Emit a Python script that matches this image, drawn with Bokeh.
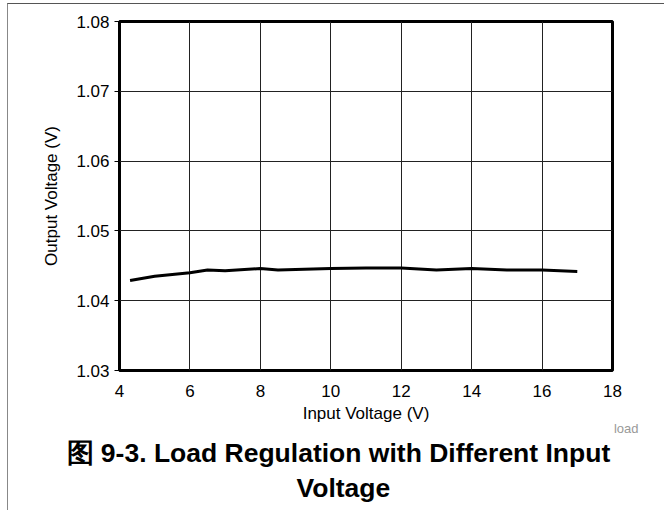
from bokeh.plotting import figure
from bokeh.models import Range1d, FixedTicker, Title
from bokeh.embed import file_html
from bokeh.resources import INLINE

# data
input_v = [4.3, 5.0, 6.0, 6.5, 7.0, 8.0, 8.5, 10.0, 11.0, 12.0, 13.0, 14.0, 15.0, 16.0, 17.0]
output_v = [1.0429, 1.0435, 1.0440, 1.0444, 1.0443, 1.0446, 1.0444, 1.0446, 1.0447, 1.0447,
            1.0444, 1.0446, 1.0444, 1.0444, 1.0442]
x_ticks = [4, 6, 8, 10, 12, 14, 16, 18]
y_ticks = [1.03, 1.04, 1.05, 1.06, 1.07, 1.08]
x_title = "Input Voltage (V)"
y_title = "Output Voltage (V)"
caption1 = "图 9-3. Load Regulation with Different Input"
caption2 = "Voltage"
note = "load"

FONT = "Liberation Sans"

p = figure(frame_width=493, frame_height=349, output_backend="svg", toolbar_location=None,
           x_range=Range1d(4, 18), y_range=Range1d(1.03, 1.08),
           min_border_left=111, min_border_right=52, min_border_top=17, min_border_bottom=140,
           margin=(3, 0, 0, 7))
p.styles = {"border-top": "1px solid #555555", "border-left": "1px solid #888888"}

p.outline_line_color = "black"
p.outline_line_width = 3
p.background_fill_color = "white"
p.border_fill_color = "white"

p.xaxis.ticker = FixedTicker(ticks=x_ticks)
p.yaxis.ticker = FixedTicker(ticks=y_ticks)
p.xaxis.formatter.use_scientific = False
for ax in (p.xaxis[0], p.yaxis[0]):
    ax.axis_line_color = None
    ax.minor_tick_line_color = None
    ax.major_tick_in = 0
    ax.major_tick_line_color = "black"
    ax.major_label_text_font = FONT
    ax.major_label_text_font_size = "17px"
    ax.major_label_text_color = "black"
    ax.axis_label_text_font = FONT
    ax.axis_label_text_font_size = "17px"
    ax.axis_label_text_font_style = "normal"
    ax.axis_label_text_color = "black"
p.yaxis.major_tick_out = 5
p.yaxis.major_label_standoff = 5
p.yaxis.axis_label = y_title
p.yaxis.axis_label_standoff = 12
p.xaxis.major_tick_out = 0
p.xaxis.major_label_standoff = 14
p.xaxis.axis_label = x_title
p.xaxis.axis_label_standoff = 4

p.xgrid.grid_line_color = "#222222"
p.ygrid.grid_line_color = "#222222"
p.xgrid.grid_line_width = 1
p.ygrid.grid_line_width = 1

p.line(input_v, output_v, line_color="black", line_width=3)

p.add_layout(Title(text=note, text_font=FONT, text_font_size="13px", text_font_style="normal",
                   text_color="#999999", align="right", offset=-26, standoff=-21), "below")
p.add_layout(Title(text=caption1, text_font=FONT, text_font_size="26.5px", text_font_style="bold",
                   text_color="black", align="left", offset=-53, standoff=21), "below")
p.add_layout(Title(text=caption2, text_font=FONT, text_font_size="26.5px", text_font_style="bold",
                   text_color="black", align="left", offset=177, standoff=-15), "below")

open("out.html", "w").write(file_html(p, INLINE))
